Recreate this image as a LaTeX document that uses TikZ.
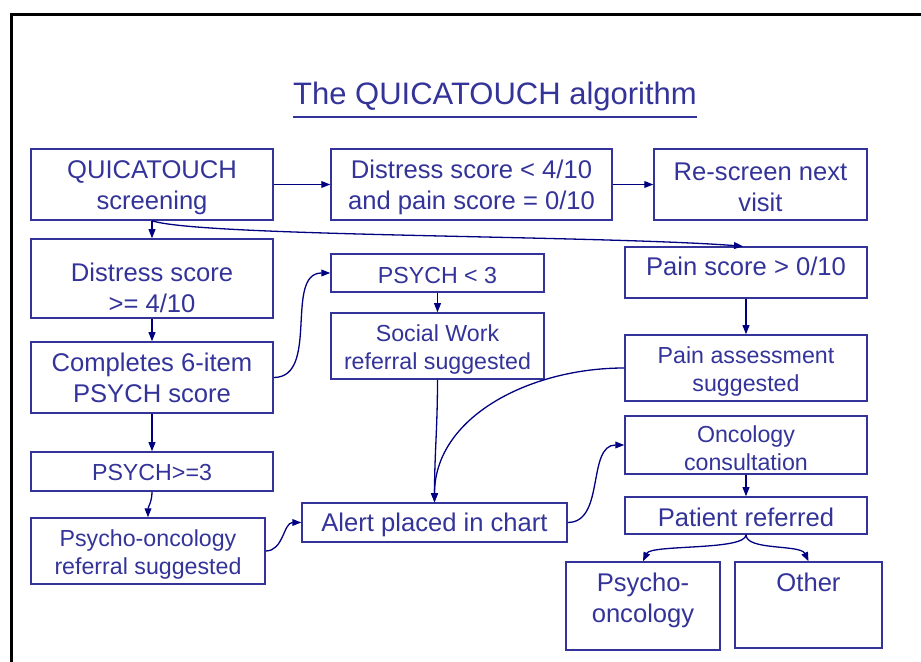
\documentclass[tikz,border=0pt]{standalone}
\usepackage{fontspec}
\setmainfont{Liberation Sans}
\definecolor{ink}{HTML}{333399}
\definecolor{linkblue}{HTML}{000080}
\usetikzlibrary{arrows.meta,positioning}
\newcommand{\titleline}[1]{\vtop{\hbox{#1}\kern2.2pt\hrule height 1.2pt}}
\newcommand{\topcell}[3]{\parbox[c][#2][t]{#1}{\centering\vspace*{5.5pt}#3}}
\newcommand{\lift}[1]{\rule{0pt}{#1}}

\begin{document}
\begin{tikzpicture}[x=0.5pt,y=-0.5pt,
  box/.style={draw=ink,line width=0.75pt,text=ink,align=center,inner sep=0pt,font=\fontsize{12.8}{15.5}\selectfont},
  smallbox/.style={box,font=\fontsize{11.6}{14}\selectfont},
  link/.style={draw=linkblue,line width=0.65pt,-{Triangle[length=4.5pt,width=3.4pt]}}]
\useasboundingbox (0,0) rectangle (921,662);
% frame and title
\draw[line width=1.5pt] (11,662) -- (11,15) -- (921,15);
\node[anchor=base,text=ink,font=\fontsize{15.5}{18}\selectfont] (title) at (495,104.7) {\titleline{The QUICATOUCH algorithm}};
% top row
\node[box,minimum width=121pt,minimum height=35.5pt] (scr) at (152,184.5) {\lift{12pt}QUICATOUCH\\screening};
\node[box,minimum width=140.5pt,minimum height=35.5pt] (low) at (471.5,184.5) {\lift{12.5pt}Distress score < 4/10\\and pain score = 0/10};
\node[box,minimum width=106.5pt,minimum height=35.5pt] (rescr) at (760.5,184.5) {\lift{11.5pt}Re-screen next\\visit};
% left column: distress
\node[box,minimum width=121pt,minimum height=39.5pt] (dist) at (152,278.5) {\lift{19pt}Distress score\\>= 4/10};
\node[box,minimum width=121pt,minimum height=35.5pt] (compl) at (152,377.5) {Completes 6-item\\PSYCH score};
\node[smallbox,minimum width=121pt,minimum height=19.5pt] (psyhi) at (152,471.5) {\lift{9.5pt}PSYCH>=3};
\node[smallbox,minimum width=117pt,minimum height=33pt] (poref) at (148,551) {\lift{11.5pt}Psycho-oncology\\referral suggested};
% middle column
\node[smallbox,minimum width=106.5pt,minimum height=19pt] (psylo) at (437.5,273) {\lift{10.5pt}PSYCH < 3};
\node[smallbox,minimum width=106.5pt,minimum height=33pt] (social) at (437.5,346) {\lift{11.5pt}Social Work\\referral suggested};
\node[box,minimum width=132.5pt,minimum height=19.5pt] (alert) at (434.5,522.5) {\lift{12pt}Alert placed in chart};
% right column: pain
\node[box,minimum width=121pt,minimum height=25.5pt,text height=9.5pt,text depth=6.3pt] (pain) at (746,272.5) {Pain score > 0/10};
\node[smallbox,minimum width=121pt,minimum height=33pt] (painass) at (746,368) {\lift{11.5pt}Pain assessment\\suggested};
\node[smallbox,minimum width=121pt,minimum height=29pt] (onc) at (746,445) {\lift{11.5pt}Oncology\\consultation};
\node[box,minimum width=121pt,minimum height=18.5pt] (patref) at (746,515.5) {\lift{11.5pt}Patient referred};
\node[box] (pso) at (643,606) {\topcell{77pt}{44pt}{Psycho-\\oncology}};
\node[box] (other) at (808.5,605) {\topcell{73.5pt}{43pt}{Other}};
% connectors
\draw[link] (scr) -- (low);
\draw[link] (low) -- (rescr);
\draw[link] (scr) -- (dist);
\draw[link] (scr.south) .. controls +(48,16) and +(-145,-11) .. ([xshift=-1.5pt]pain.north);
\draw[link] (dist) -- (compl);
\draw[link] (compl.east) to[out=0,in=180] (psylo.west);
\draw[link] (compl) -- (psyhi);
\draw[link] (psyhi.south) to[out=-90,in=90] (poref.north);
\draw[link] (poref.east) to[out=0,in=180] (alert.west);
\draw[link] (psylo) -- (social);
\draw[link] (social.south) to[out=-90,in=90] (alert.north);
\draw[link] (painass.west) .. controls +(-95,0) and +(0,-85) .. (alert.north);
\draw[link] (alert.east) to[out=0,in=180] (onc.west);
\draw[link] (pain) -- (painass);
\draw[link] (onc) -- (patref);
\draw[link] (patref.south) .. controls +(0,16) and +(8,-17) .. (pso.north);
\draw[link] (patref.south) .. controls +(0,16) and +(-8,-17) .. (other.north);
\end{tikzpicture}
\end{document}
